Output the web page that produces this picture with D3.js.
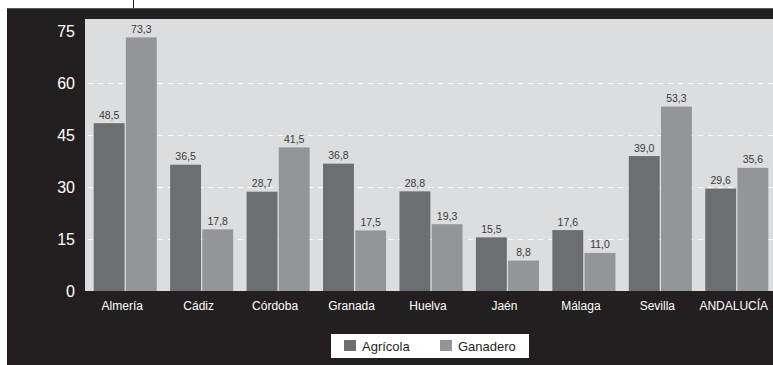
<!DOCTYPE html>
<html>
<head>
<meta charset="utf-8">
<script src="https://cdn.jsdelivr.net/npm/d3@7"></script>
<style>
  body { margin: 0; background: #ffffff; }
  svg { display: block; }
</style>
</head>
<body>
<div id="chart"></div>
<script>
// Data
const provincias = ["Almería", "Cádiz", "Córdoba", "Granada", "Huelva", "Jaén", "Málaga", "Sevilla", "ANDALUCÍA"];
const series = ["Agrícola", "Ganadero"];
const agricola = [48.5, 36.5, 28.7, 36.8, 28.8, 15.5, 17.6, 39.0, 29.6];
const ganadero = [73.3, 17.8, 41.5, 17.5, 19.3, 8.8, 11.0, 53.3, 35.6];
const yTicks = [0, 15, 30, 45, 60, 75];

const width = 773, height = 365;
const colors = { "Agrícola": "#6d6e71", "Ganadero": "#939598" };
const font = "'Liberation Sans', Arial, sans-serif";

const svg = d3.select("#chart").append("svg")
    .attr("width", width)
    .attr("height", height);

// Dark frame
svg.append("rect")
    .attr("x", 7).attr("y", 8)
    .attr("width", width).attr("height", height)
    .attr("fill", "#231f20");
svg.append("line")
    .attr("x1", 7).attr("x2", width)
    .attr("y1", 8.5).attr("y2", 8.5)
    .attr("stroke", "#5a5a5c").attr("stroke-width", 1);
// small marker line above the frame
svg.append("line")
    .attr("x1", 133.5).attr("x2", 133.5)
    .attr("y1", 0).attr("y2", 8)
    .attr("stroke", "#231f20").attr("stroke-width", 1);

// Scales
const plot = { left: 85, top: 19, bottom: 291 };
const y = d3.scaleLinear()
    .domain([0, 75])
    .range([plot.bottom, plot.bottom - 75 * 3.46]);

const x0 = d3.scaleBand()
    .domain(provincias)
    .range([87, 775])
    .paddingInner(0.175)
    .paddingOuter(0.0875);

const x1 = d3.scaleBand()
    .domain(series)
    .range([0, x0.bandwidth()])
    .paddingInner(0.04);

// Plot background
svg.append("rect")
    .attr("x", plot.left).attr("y", plot.top)
    .attr("width", width - plot.left).attr("height", plot.bottom - plot.top)
    .attr("fill", "#dcdddf");

// Gridlines
svg.append("g")
    .selectAll("line")
    .data(yTicks.filter(d => d > 0 && d < 75))
    .join("line")
    .attr("x1", plot.left + 3).attr("x2", width)
    .attr("y1", d => Math.round(y(d)) + 0.5)
    .attr("y2", d => Math.round(y(d)) + 0.5)
    .attr("stroke", "#ffffff")
    .attr("stroke-width", 1.2)
    .attr("stroke-dasharray", "5,5");

// Y tick labels
svg.append("g")
    .selectAll("text")
    .data(yTicks)
    .join("text")
    .attr("x", 75)
    .attr("y", d => y(d))
    .attr("dy", "0.36em")
    .attr("text-anchor", "end")
    .attr("fill", "#ffffff")
    .style("font-family", font)
    .style("font-size", "16px")
    .text(d => d);

// Bars
const rows = provincias.map((p, i) => ({
    provincia: p,
    values: [
        { key: "Agrícola", value: agricola[i] },
        { key: "Ganadero", value: ganadero[i] }
    ]
}));

const fmt = v => d3.format(".1f")(v).replace(".", ",");

const groups = svg.append("g")
    .selectAll("g")
    .data(rows)
    .join("g")
    .attr("transform", d => `translate(${x0(d.provincia)},0)`);

groups.selectAll("rect")
    .data(d => d.values)
    .join("rect")
    .attr("x", d => x1(d.key))
    .attr("y", d => y(d.value))
    .attr("width", x1.bandwidth())
    .attr("height", d => plot.bottom - y(d.value))
    .attr("fill", d => colors[d.key]);

groups.selectAll("text")
    .data(d => d.values)
    .join("text")
    .attr("x", d => x1(d.key) + x1.bandwidth() / 2)
    .attr("y", d => y(d.value) - 4.5)
    .attr("text-anchor", "middle")
    .attr("fill", "#3a3a3a")
    .style("font-family", font)
    .style("font-size", "10.5px")
    .text(d => fmt(d.value));

// Category labels
svg.append("g")
    .selectAll("text")
    .data(provincias)
    .join("text")
    .attr("x", d => x0(d) + x0.bandwidth() / 2 - 3)
    .attr("y", 310)
    .attr("text-anchor", "middle")
    .attr("fill", "#ffffff")
    .style("font-family", font)
    .style("font-size", "12px")
    .text(d => d);

// Legend
const legend = svg.append("g");
legend.append("rect")
    .attr("x", 331).attr("y", 334)
    .attr("width", 198).attr("height", 24)
    .attr("fill", "#ffffff");

const legendX = [344, 440];
series.forEach((s, i) => {
    legend.append("rect")
        .attr("x", legendX[i]).attr("y", 340)
        .attr("width", 12).attr("height", 11)
        .attr("fill", colors[s]);
    legend.append("text")
        .attr("x", legendX[i] + 18)
        .attr("y", 350.5)
        .attr("fill", "#231f20")
        .style("font-family", font)
        .style("font-size", "13px")
        .text(s);
});
</script>
</body>
</html>
